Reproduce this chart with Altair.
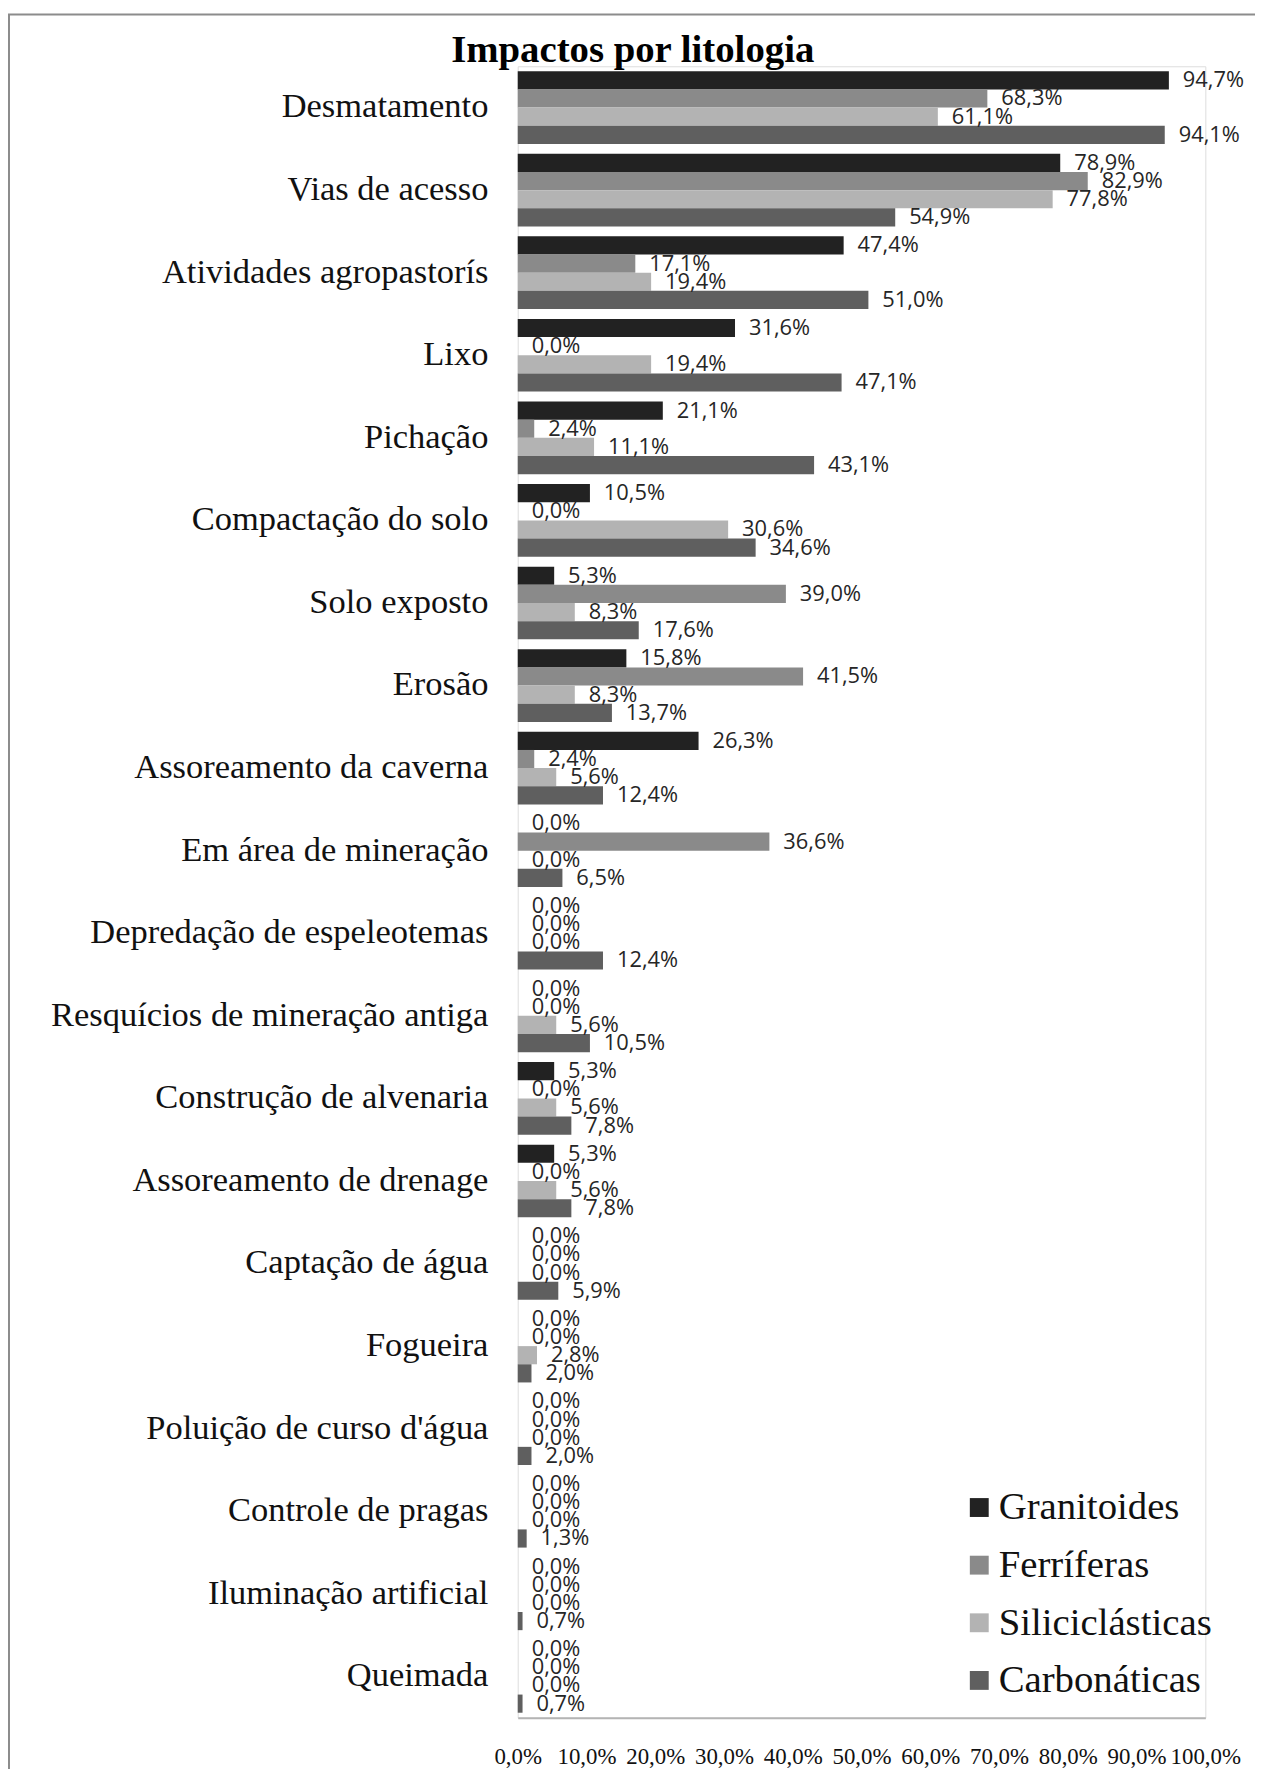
import altair as alt
import pandas as pd

categories = [
    "Desmatamento", "Vias de acesso", "Atividades agropastorís", "Lixo", "Pichação",
    "Compactação do solo", "Solo exposto", "Erosão", "Assoreamento da caverna",
    "Em área de mineração", "Depredação de espeleotemas", "Resquícios de mineração antiga",
    "Construção de alvenaria", "Assoreamento de drenage", "Captação de água", "Fogueira",
    "Poluição de curso d'água", "Controle de pragas", "Iluminação artificial", "Queimada",
]
series = ["Granitoides", "Ferríferas", "Siliciclásticas", "Carbonáticas"]
granitoides = [94.7, 78.9, 47.4, 31.6, 21.1, 10.5, 5.3, 15.8, 26.3, 0.0, 0.0, 0.0, 5.3, 5.3, 0.0, 0.0, 0.0, 0.0, 0.0, 0.0]
ferriferas = [68.3, 82.9, 17.1, 0.0, 2.4, 0.0, 39.0, 41.5, 2.4, 36.6, 0.0, 0.0, 0.0, 0.0, 0.0, 0.0, 0.0, 0.0, 0.0, 0.0]
siliciclasticas = [61.1, 77.8, 19.4, 19.4, 11.1, 30.6, 8.3, 8.3, 5.6, 0.0, 0.0, 5.6, 5.6, 5.6, 0.0, 2.8, 0.0, 0.0, 0.0, 0.0]
carbonaticas = [94.1, 54.9, 51.0, 47.1, 43.1, 34.6, 17.6, 13.7, 12.4, 6.5, 12.4, 10.5, 7.8, 7.8, 5.9, 2.0, 2.0, 1.3, 0.7, 0.7]
colors = ["#222222", "#8a8a8a", "#b3b3b3", "#5f5f5f"]
x_ticks = [0, 10, 20, 30, 40, 50, 60, 70, 80, 90, 100]

rows = []
for s, vals in zip(series, [granitoides, ferriferas, siliciclasticas, carbonaticas]):
    for c, v in zip(categories, vals):
        rows.append({"cat": c, "serie": s, "val": v,
                     "lbl": f"{v:.1f}".replace(".", ",") + "%"})
df = pd.DataFrame(rows)

serif = "Liberation Serif"
sans = "Open Sans"

y_enc = alt.Y("cat:N", sort=categories, title=None,
              scale=alt.Scale(paddingInner=0.12, paddingOuter=0.06),
              axis=alt.Axis(domain=False, ticks=False, labelPadding=30,
                            labelFont=serif, labelFontSize=34.7, labelColor="#111111",
                            labelLimit=0))
yoff = alt.YOffset("serie:N", sort=series, scale=alt.Scale(paddingInner=0, paddingOuter=0))
x_enc = alt.X("val:Q", title=None,
              scale=alt.Scale(domain=[0, 100], nice=False),
              axis=alt.Axis(values=x_ticks, grid=False, ticks=False,
                            domainColor="#b4b4b4", domainWidth=2,
                            labelFont=serif, labelFontSize=23, labelColor="#111111",
                            labelPadding=28, labelOverlap=False, labelFlush=False,
                            labelExpr="replace(format(datum.value, '.1f'), '.', ',') + '%'"))

bars = alt.Chart(df).mark_bar(cornerRadius=0).encode(
    x=x_enc, y=y_enc, yOffset=yoff,
    color=alt.Color("serie:N", sort=series,
                    scale=alt.Scale(domain=series, range=colors),
                    legend=alt.Legend(title=None, orient="none", legendX=445, legendY=1431,
                                      symbolType="square", symbolSize=361, symbolStrokeWidth=0,
                                      labelFont=serif, labelFontSize=39, labelColor="#111111",
                                      labelOffset=0, rowPadding=18, labelLimit=0)),
)

labels = alt.Chart(df).mark_text(align="left", baseline="middle", dx=14,
                                 font=sans, fontSize=22, color="#262626").encode(
    x="val:Q", y=alt.Y("cat:N", sort=categories), yOffset=alt.YOffset("serie:N", sort=series),
    text="lbl:N",
)

frame = alt.Chart(pd.DataFrame({"a": [0]})).mark_rect(
    fill="transparent", stroke="#8c8c8c", strokeWidth=2).encode(
    x=alt.value(-512), x2=alt.value(1200), y=alt.value(-52), y2=alt.value(2000))

chart = alt.layer(frame, bars, labels).properties(
    width=692, height=1662,
    title=alt.TitleParams("Impactos por litologia", font=serif, fontSize=39, fontWeight="bold",
                          color="#000000", anchor="start", frame="group", dx=-67, dy=88,
                          offset=0, baseline="alphabetic"),
    padding={"left": 513, "top": 53, "right": 50, "bottom": 46},
    autosize=alt.AutoSizeParams(type="none"),
).configure_view(stroke=None).configure(background="white")

chart.save("out.html", embed_options={"renderer": "svg", "actions": False})
